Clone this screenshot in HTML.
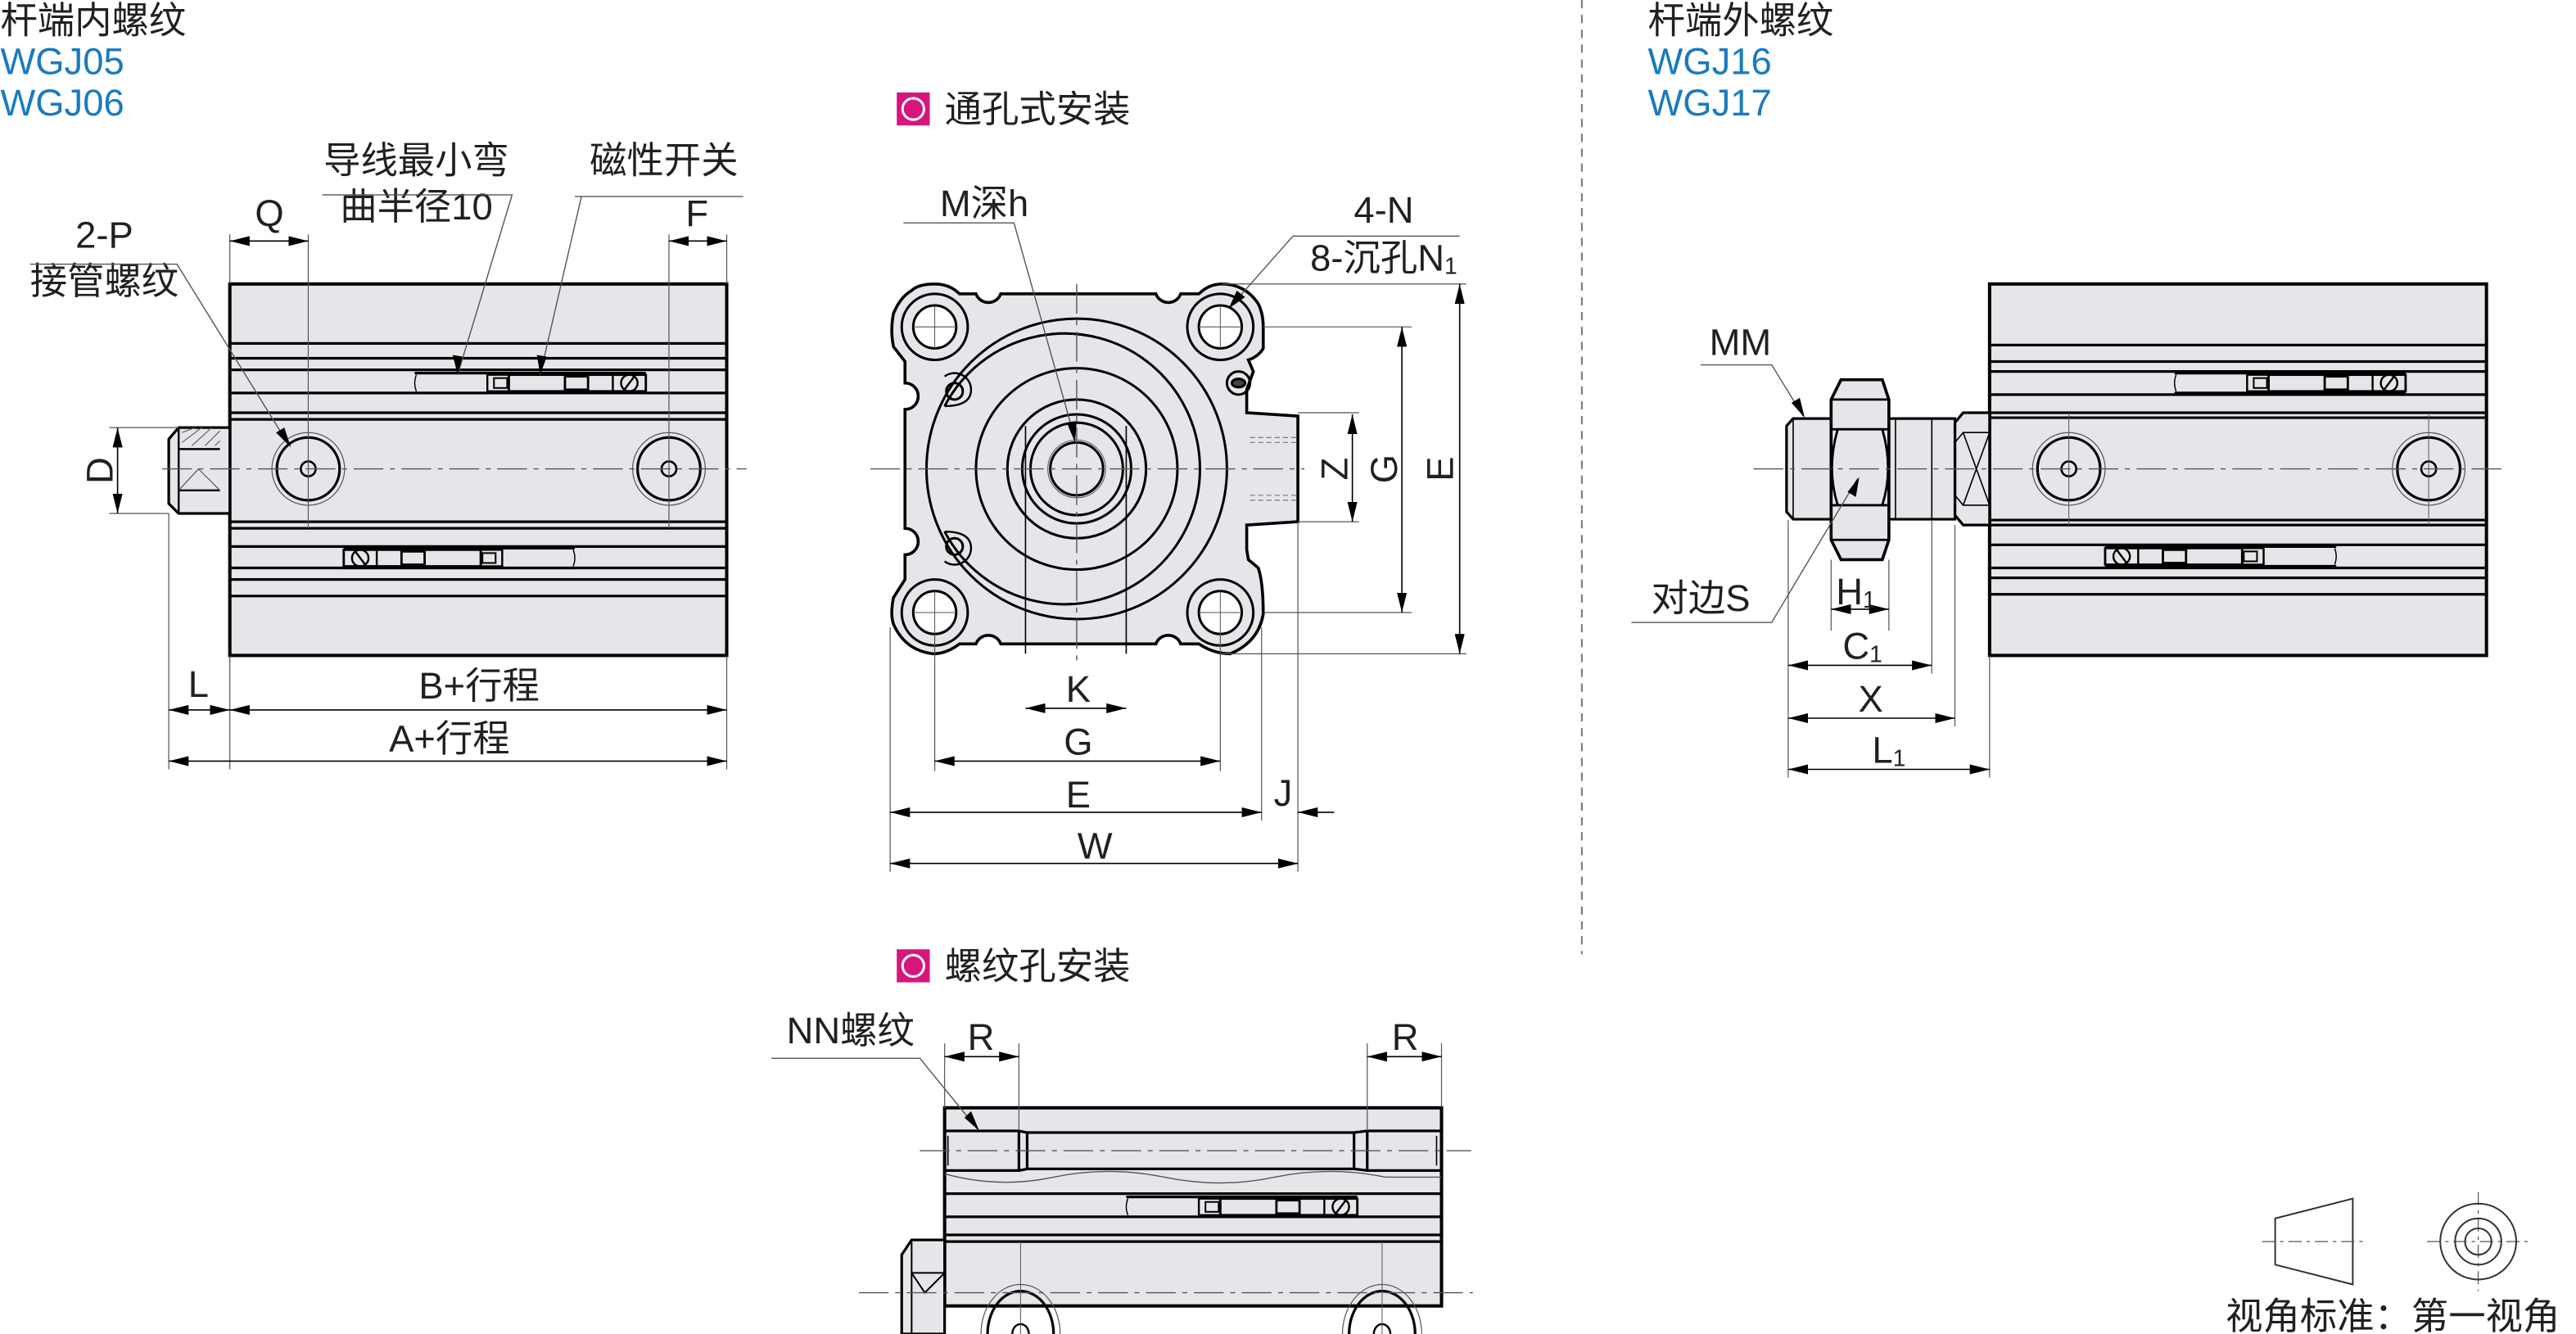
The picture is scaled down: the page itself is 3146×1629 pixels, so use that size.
<!DOCTYPE html>
<html><head><meta charset="utf-8"><style>
html,body{margin:0;padding:0;background:#fff;}
svg{display:block}
text{font-family:"Liberation Sans","Noto Sans CJK SC",sans-serif;fill:#231f20;font-size:22.5px;}
tspan{font-size:14px;}
</style></head><body>
<svg width="3146" height="1629" viewBox="0 0 1560 808" xmlns="http://www.w3.org/2000/svg">
<defs>
<marker id="a" viewBox="0 0 12 6" refX="12" refY="3" markerWidth="12" markerHeight="6" orient="auto-start-reverse" markerUnits="userSpaceOnUse"><path d="M0,0L12,3L0,6z" fill="#000"/></marker>
<g id="sw">
<rect x="0" y="0" width="140" height="12" fill="#e6e6ea" stroke="none"/>
<path d="M0,0H140M0,12H140" stroke="#000" stroke-width="1.6"/>
<path d="M1,1q-2,5 0,10" fill="none" stroke="#000" stroke-width="0.7"/>
<rect x="44" y="1" width="13" height="10" fill="#e6e6ea" stroke="#000" stroke-width="1.2"/>
<rect x="48" y="3" width="8" height="6" fill="none" stroke="#000" stroke-width="1"/>
<rect x="57" y="1" width="83" height="10" fill="none" stroke="#000" stroke-width="1.4"/>
<rect x="91" y="2" width="14" height="8" fill="none" stroke="#000" stroke-width="1.4"/>
<line x1="120" y1="1" x2="120" y2="11" stroke="#000" stroke-width="1.2"/>
<circle cx="130" cy="6" r="5" fill="none" stroke="#000" stroke-width="1.2"/>
<line x1="127" y1="10" x2="133" y2="2" stroke="#000" stroke-width="1.2"/>
</g>
<g id="port">
<circle r="22" fill="none" stroke="#555" stroke-width="0.6"/>
<circle r="19" fill="none" stroke="#000" stroke-width="1.6"/>
<circle r="4.5" fill="none" stroke="#000" stroke-width="1.3"/>
</g>
</defs>
<g stroke-linecap="butt">

<!-- ================= LEFT VIEW ================= -->
<text x="0" y="20" font-size="20">杆端内螺纹</text>
<text x="0" y="45" font-size="20" style="fill:#1a7ac0">WGJ05</text>
<text x="0" y="70" font-size="20" style="fill:#1a7ac0">WGJ06</text>

<rect x="139" y="172" width="301" height="225" fill="#e6e6ea" stroke="#000" stroke-width="2"/>
<g stroke="#000" stroke-width="1.6">
<path d="M139,208H440M139,217H440M139,224H440M139,238H440M139,250H440M139,254H440M139,316H440M139,320H440M139,331H440M139,344H440M139,351H440M139,361H440"/>
</g>
<use href="#sw" x="251" y="226"/>
<use href="#sw" transform="translate(348,332) scale(-1,1)"/>
<use href="#port" x="186.5" y="284"/>
<use href="#port" x="405" y="284"/>
<!-- rod end -->
<path d="M108,259H139V311H108L102,305V266Z" fill="#e6e6ea" stroke="#000" stroke-width="1.6"/>
<path d="M108,259V311M108,272H133M108,297H133" stroke="#000" stroke-width="1.2" fill="none"/>
<path d="M110,262l8,-3M110,268l12,-9M116,270l12,-11M124,270l9,-9M130,270l3,-3" stroke="#666" stroke-width="0.6"/>
<path d="M108,297L120,284L133,297" stroke="#555" stroke-width="0.6" fill="none"/>
<!-- centerline -->
<path d="M98,284H452" stroke="#555" stroke-width="0.7" stroke-dasharray="18,4,3,4"/>
<path d="M186.5,142V320M405,142V320" stroke="#555" stroke-width="0.6"/>
<path d="M139,142V172M440,142V172" stroke="#555" stroke-width="0.6"/>
<!-- Q, F -->
<line x1="139" y1="146" x2="186.5" y2="146" stroke="#000" stroke-width="0.8" marker-start="url(#a)" marker-end="url(#a)"/>
<text x="163" y="137" font-size="20" text-anchor="middle">Q</text>
<line x1="405" y1="146" x2="440" y2="146" stroke="#000" stroke-width="0.8" marker-start="url(#a)" marker-end="url(#a)"/>
<text x="422" y="137" font-size="20" text-anchor="middle">F</text>
<!-- D -->
<path d="M66,259H108M66,311H102" stroke="#555" stroke-width="0.6"/>
<line x1="71" y1="259" x2="71" y2="311" stroke="#000" stroke-width="0.8" marker-start="url(#a)" marker-end="url(#a)"/>
<text transform="translate(68,285) rotate(-90)" font-size="20" text-anchor="middle">D</text>
<!-- labels -->
<text x="252" y="105" font-size="20" text-anchor="middle">导线最小弯</text>
<text x="252" y="133" font-size="20" text-anchor="middle">曲半径10</text>
<path d="M195,118H310L277,227" stroke="#555" stroke-width="0.7" fill="none"/>
<path d="M277,227l-3,-12 6,1z" fill="#000"/>
<text x="402" y="105" font-size="20" text-anchor="middle">磁性开关</text>
<path d="M348,119H450M352,119L327,227" stroke="#555" stroke-width="0.7" fill="none"/>
<path d="M327,227l-2,-12 6,1z" fill="#000"/>
<text x="63" y="150" font-size="20" text-anchor="middle">2-P</text>
<text x="63" y="178" font-size="20" text-anchor="middle">接管螺纹</text>
<path d="M18,160H107L175,270" stroke="#555" stroke-width="0.7" fill="none"/>
<path d="M176,271l-9,-9 5,-3z" fill="#000"/>
<!-- bottom dims -->
<path d="M102,311V466M139,397V466M440,397V466" stroke="#555" stroke-width="0.6"/>
<line x1="102" y1="430" x2="139" y2="430" stroke="#000" stroke-width="0.8" marker-start="url(#a)" marker-end="url(#a)"/>
<text x="120" y="422" font-size="20" text-anchor="middle">L</text>
<line x1="139" y1="430" x2="440" y2="430" stroke="#000" stroke-width="0.8" marker-start="url(#a)" marker-end="url(#a)"/>
<text x="290" y="423" font-size="20" text-anchor="middle">B+行程</text>
<line x1="102" y1="461" x2="440" y2="461" stroke="#000" stroke-width="0.8" marker-start="url(#a)" marker-end="url(#a)"/>
<text x="272" y="455" font-size="20" text-anchor="middle">A+行程</text>

<!-- ================= MIDDLE VIEW ================= -->
<rect x="543" y="56" width="20" height="20" fill="#d6157e"/>
<circle cx="553" cy="66" r="6.5" fill="none" stroke="#fff" stroke-width="1.5"/>
<text x="572" y="74" font-size="20">通孔式安装</text>

<path d="M552,176 Q556,172 566,172 Q575,172 581,178 L591,178 A8,8 0 0 0 606,178 L700,178 A8,8 0 0 0 715,178 L726,178 Q732,172 740,172 Q754,172 762,184 Q765,190 765,198 L765,211 Q762,216 756,218 L759,225 L755,236 L755,250 L786,252 L786,316 L755,318 L755,333 L756,339 L762,344 Q765,353 765,372 Q762,389 745,396 Q735,396 726,390 L715,390 A8,8 0 0 0 700,390 L606,390 A8,8 0 0 0 591,390 L581,390 Q573,396 565,396 Q548,394 541,378 Q539,372 541,362 L548,351 L548,336 A8,8 0 0 0 548,320 L548,248 A8,8 0 0 0 548,232 L548,219 L541,210 Q539,200 541,190 Q545,180 552,176Z" fill="#e6e6ea" stroke="#000" stroke-width="1.8"/>
<g fill="none" stroke="#000" stroke-width="1.5">
<circle cx="566" cy="198" r="20"/><circle cx="566" cy="198" r="13" fill="#fff"/>
<circle cx="739" cy="198" r="20"/><circle cx="739" cy="198" r="13" fill="#fff"/>
<circle cx="566" cy="371" r="20"/><circle cx="566" cy="371" r="13" fill="#fff"/>
<circle cx="739" cy="371" r="20"/><circle cx="739" cy="371" r="13" fill="#fff"/>
<circle cx="652" cy="284" r="91"/>
<path d="M572,246 A82,82 0 1 1 572,322"/>
<path d="M572,246 Q588,246 588,236 A10,10 0 0 0 572,228" stroke-width="1.2"/>
<path d="M572,322 Q588,322 588,332 A10,10 0 0 1 572,340" stroke-width="1.2"/>
<circle cx="578" cy="237" r="5"/><circle cx="578" cy="331" r="5"/>
<circle cx="652" cy="284" r="61"/>
<circle cx="652" cy="284" r="42"/>
<circle cx="652" cy="284" r="33"/>
<circle cx="652" cy="284" r="28"/>
<circle cx="652" cy="284" r="16"/>
<circle cx="750" cy="232" r="7"/>
<ellipse cx="750" cy="232" rx="4" ry="2.5" fill="#444"/>
</g>
<circle cx="652" cy="284" r="17.5" fill="none" stroke="#555" stroke-width="0.5"/>
<path d="M621,258V396M682,258V396" stroke="#000" stroke-width="0.8"/>
<path d="M757,265H786M757,268H786M757,300H786M757,303H786" stroke="#777" stroke-width="0.6" stroke-dasharray="3,2"/>
<!-- centerlines -->
<path d="M527,284H790" stroke="#555" stroke-width="0.7" stroke-dasharray="18,4,3,4"/>
<path d="M652,172V400" stroke="#555" stroke-width="0.7" stroke-dasharray="18,4,3,4"/>
<path d="M553,198H579M726,198H752M553,371H579M726,371H752M566,185V211M739,185V211M566,358V384M739,358V384" stroke="#555" stroke-width="0.5"/>
<!-- dims -->
<path d="M765,198H855M765,371H855M740,172H888M740,396H888M786,250H823M786,316H823" stroke="#555" stroke-width="0.6"/>
<line x1="819" y1="251" x2="819" y2="316" stroke="#000" stroke-width="0.8" marker-start="url(#a)" marker-end="url(#a)"/>
<text transform="translate(816,284) rotate(-90)" font-size="20" text-anchor="middle">Z</text>
<line x1="849" y1="198" x2="849" y2="371" stroke="#000" stroke-width="0.8" marker-start="url(#a)" marker-end="url(#a)"/>
<text transform="translate(846,284) rotate(-90)" font-size="20" text-anchor="middle">G</text>
<line x1="884" y1="172" x2="884" y2="396" stroke="#000" stroke-width="0.8" marker-start="url(#a)" marker-end="url(#a)"/>
<text transform="translate(880,284) rotate(-90)" font-size="20" text-anchor="middle">E</text>
<path d="M566,384V467M739,384V467M539,380V528M764,380V497M786,316V528" stroke="#555" stroke-width="0.6"/>
<line x1="621" y1="429" x2="682" y2="429" stroke="#000" stroke-width="0.8" marker-start="url(#a)" marker-end="url(#a)"/>
<text x="653" y="425" font-size="20" text-anchor="middle">K</text>
<line x1="566" y1="461" x2="739" y2="461" stroke="#000" stroke-width="0.8" marker-start="url(#a)" marker-end="url(#a)"/>
<text x="653" y="457" font-size="20" text-anchor="middle">G</text>
<line x1="539" y1="492" x2="764" y2="492" stroke="#000" stroke-width="0.8" marker-start="url(#a)" marker-end="url(#a)"/>
<text x="653" y="489" font-size="20" text-anchor="middle">E</text>
<line x1="808" y1="492" x2="786" y2="492" stroke="#000" stroke-width="0.8" marker-end="url(#a)"/>
<text x="777" y="488" font-size="20" text-anchor="middle">J</text>
<line x1="539" y1="523" x2="786" y2="523" stroke="#000" stroke-width="0.8" marker-start="url(#a)" marker-end="url(#a)"/>
<text x="663" y="520" font-size="20" text-anchor="middle">W</text>
<text x="596" y="131" font-size="20" text-anchor="middle">M深h</text>
<path d="M547,135H614L651,266" stroke="#555" stroke-width="0.7" fill="none"/>
<path d="M651,268l-5,-12 6,-1z" fill="#000"/>
<text x="838" y="135" font-size="20" text-anchor="middle">4-N</text>
<text x="838" y="164" font-size="20" text-anchor="middle">8-沉孔N<tspan font-size="13" dy="2">1</tspan></text>
<path d="M783,143H884M783,143L745,186" stroke="#555" stroke-width="0.7" fill="none"/>
<path d="M744,187l5,-11 5,4z" fill="#000"/>

<!-- divider -->
<path d="M958,0V578" stroke="#777" stroke-width="1" stroke-dasharray="5,4"/>

<!-- ================= RIGHT VIEW ================= -->
<text x="998" y="20" font-size="20">杆端外螺纹</text>
<text x="998" y="45" font-size="20" style="fill:#1a7ac0">WGJ16</text>
<text x="998" y="70" font-size="20" style="fill:#1a7ac0">WGJ17</text>
<rect x="1205" y="172" width="301" height="225" fill="#e6e6ea" stroke="#000" stroke-width="2"/>
<g stroke="#000" stroke-width="1.6">
<path d="M1205,209H1506M1205,219H1506M1205,225H1506M1205,239H1506M1205,250H1506M1205,253H1506M1205,315H1506M1205,318H1506M1205,330H1506M1205,344H1506M1205,350H1506M1205,360H1506"/>
</g>
<use href="#sw" x="1317" y="226"/>
<use href="#sw" transform="translate(1415,331) scale(-1,1)"/>
<use href="#port" x="1253" y="284"/>
<use href="#port" x="1471" y="284"/>
<!-- rod -->
<path d="M1189,250H1205V318H1189L1184,312V256Z" fill="#e6e6ea" stroke="#000" stroke-width="1.6"/>
<path d="M1184,268L1189,262H1205M1184,300L1189,306H1205M1189,262L1205,306M1189,306L1205,262" stroke="#000" stroke-width="0.8" fill="none"/>
<path d="M1086,253.5H1184V314.5H1086L1082,310V258Z" fill="#e6e6ea" stroke="#000" stroke-width="1.6"/>
<path d="M1086,254V314M1148,254V314M1170,254V314" stroke="#000" stroke-width="0.8"/>
<path d="M1115,230H1140L1144,242V327L1140,339H1115L1109,327V242Z" fill="#e6e6ea" stroke="#000" stroke-width="1.8"/>
<path d="M1109,242H1144M1109,260H1144M1109,306H1144M1109,327H1144M1113,260Q1106,284 1113,306M1140,260Q1147,284 1140,306" stroke="#000" stroke-width="1.4" fill="none"/>
<path d="M1062,284H1518" stroke="#555" stroke-width="0.7" stroke-dasharray="18,4,3,4"/>
<path d="M1253,250V318M1471,250V318" stroke="#555" stroke-width="0.5"/>
<text x="1054" y="215" font-size="20" text-anchor="middle">MM</text>
<path d="M1030,221H1073L1092,252" stroke="#555" stroke-width="0.7" fill="none"/>
<path d="M1093,253l-8,-9 5,-3z" fill="#000"/>
<text x="1030" y="370" font-size="20" text-anchor="middle">对边S</text>
<path d="M988,377H1073L1125,290" stroke="#555" stroke-width="0.7" fill="none"/>
<path d="M1126,289l-2,12 -5,-3z" fill="#000"/>
<path d="M1083,315V471M1109,339V382M1144,339V382M1170,315V408M1184,318V440M1205,397V471" stroke="#555" stroke-width="0.6"/>
<line x1="1109" y1="369" x2="1144" y2="369" stroke="#000" stroke-width="0.8" marker-start="url(#a)" marker-end="url(#a)"/>
<text x="1124" y="366" font-size="20" text-anchor="middle">H<tspan font-size="13" dy="2">1</tspan></text>
<line x1="1083" y1="403" x2="1170" y2="403" stroke="#000" stroke-width="0.8" marker-start="url(#a)" marker-end="url(#a)"/>
<text x="1128" y="399" font-size="20" text-anchor="middle">C<tspan font-size="13" dy="2">1</tspan></text>
<line x1="1083" y1="435" x2="1184" y2="435" stroke="#000" stroke-width="0.8" marker-start="url(#a)" marker-end="url(#a)"/>
<text x="1133" y="431" font-size="20" text-anchor="middle">X</text>
<line x1="1083" y1="466" x2="1205" y2="466" stroke="#000" stroke-width="0.8" marker-start="url(#a)" marker-end="url(#a)"/>
<text x="1144" y="462" font-size="20" text-anchor="middle">L<tspan font-size="13" dy="2">1</tspan></text>

<!-- ================= BOTTOM VIEW ================= -->
<rect x="543" y="575" width="20" height="20" fill="#d6157e"/>
<circle cx="553" cy="585" r="6.5" fill="none" stroke="#fff" stroke-width="1.5"/>
<text x="572" y="593" font-size="20">螺纹孔安装</text>
<rect x="572" y="671" width="301" height="120" fill="#e6e6ea" stroke="#000" stroke-width="2"/>
<g stroke="#000" stroke-width="1.6" fill="none">
<path d="M572,685H617L622,686H820L828,685H873M572,709H617L622,708H820L828,709H873"/>
<path d="M617,685V709M622,686V708M820,686V708M828,685V709"/>
<path d="M572,723H873M572,737H873M572,748H873M572,752H873"/>
<path d="M574,688V706M870,688V706" stroke-width="0.8"/>
</g>
<path d="M572,711 Q605,720 638,713 T705,713 T772,713 T839,713 L873,713" stroke="#555" stroke-width="0.7" fill="none"/>
<use href="#sw" x="682" y="725"/>
<path d="M546,760L552,751H572V808H546Z" fill="#e6e6ea" stroke="#000" stroke-width="1.6"/>
<path d="M552,751V808M552,771H572M552,771L560,783L572,771" stroke="#000" stroke-width="1" fill="none"/>
<path d="M598,808A20,26 0 0 1 638,808" fill="none" stroke="#000" stroke-width="1.6"/>
<path d="M817,808A20,26 0 0 1 857,808" fill="none" stroke="#000" stroke-width="1.6"/>
<path d="M594,808A24,30 0 0 1 642,808M813,808A24,30 0 0 1 861,808" fill="none" stroke="#555" stroke-width="0.6"/>
<path d="M613,808A5,6 0 0 1 623,808M832,808A5,6 0 0 1 842,808" fill="none" stroke="#000" stroke-width="1.2"/>
<path d="M618,752V808M837,752V808" stroke="#555" stroke-width="0.5"/>
<path d="M557,697H891" stroke="#555" stroke-width="0.7" stroke-dasharray="18,4,3,4"/>
<path d="M520,783H892" stroke="#555" stroke-width="0.7" stroke-dasharray="18,4,3,4"/>
<path d="M572,632V671M617,632V685M828,632V685M873,632V671" stroke="#555" stroke-width="0.6"/>
<line x1="572" y1="640" x2="617" y2="640" stroke="#000" stroke-width="0.8" marker-start="url(#a)" marker-end="url(#a)"/>
<text x="594" y="636" font-size="20" text-anchor="middle">R</text>
<line x1="828" y1="640" x2="873" y2="640" stroke="#000" stroke-width="0.8" marker-start="url(#a)" marker-end="url(#a)"/>
<text x="851" y="636" font-size="20" text-anchor="middle">R</text>
<text x="515" y="632" font-size="20" text-anchor="middle">NN螺纹</text>
<path d="M467,641H557L592,684" stroke="#555" stroke-width="0.7" fill="none"/>
<path d="M593,685l-9,-8 4,-4z" fill="#000"/>

<!-- view symbol -->
<path d="M1378,738L1425,726V778L1378,766Z" fill="none" stroke="#333" stroke-width="1"/>
<path d="M1370,752H1433M1470,752H1533M1501,722V782" stroke="#555" stroke-width="0.6" stroke-dasharray="8,3,2,3"/>
<circle cx="1501" cy="752" r="23" fill="none" stroke="#333" stroke-width="1"/>
<circle cx="1501" cy="752" r="14" fill="none" stroke="#333" stroke-width="1"/>
<circle cx="1501" cy="752" r="8" fill="none" stroke="#333" stroke-width="1"/>
<text x="1348" y="805" font-size="20">视角标准：第一视角</text>
</g>
</svg>
</body></html>
